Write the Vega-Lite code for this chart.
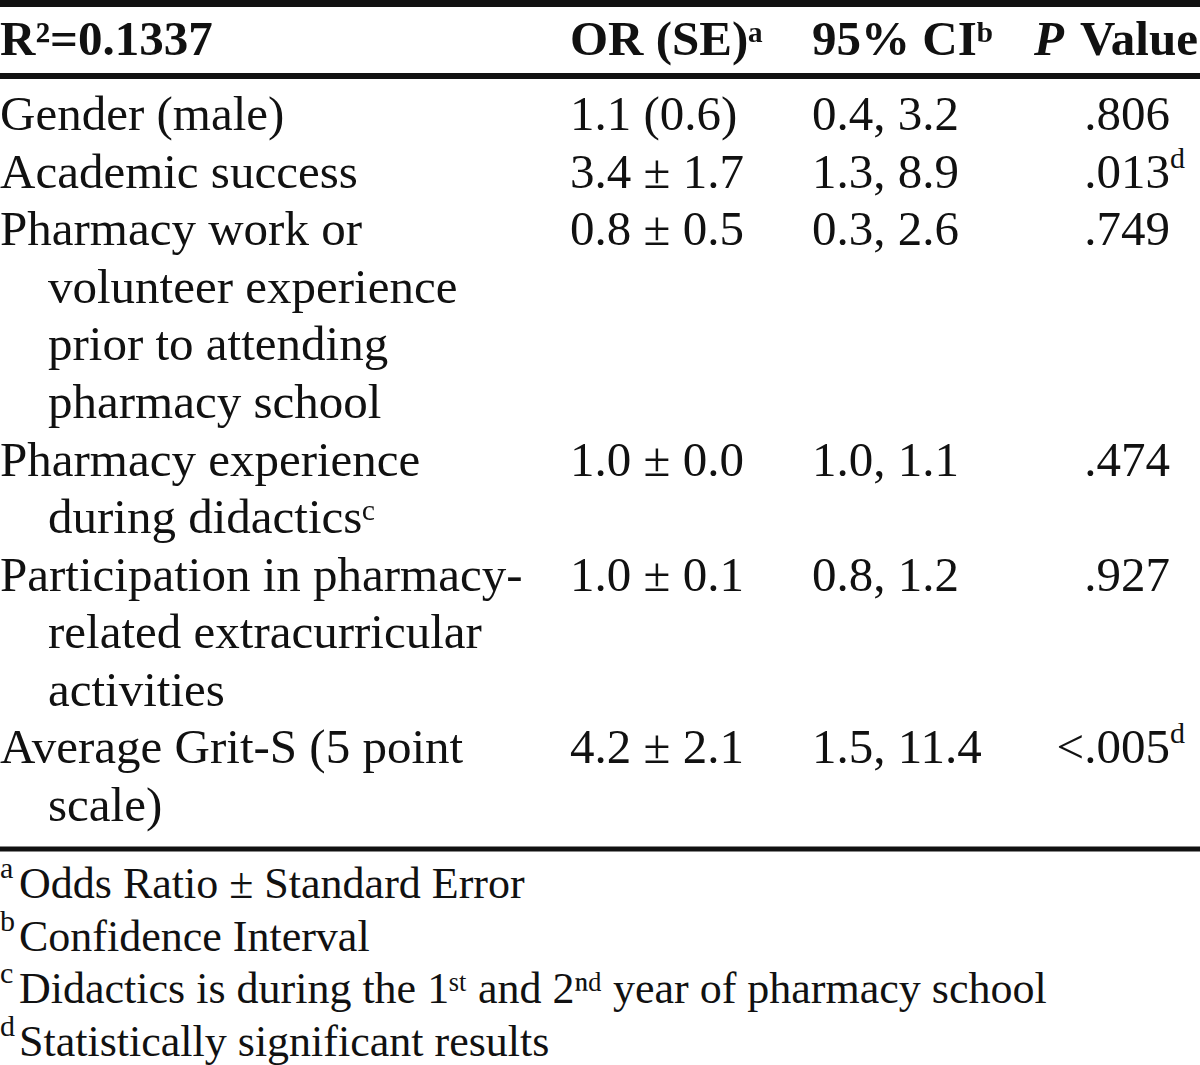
{
  "$schema": "https://vega.github.io/schema/vega-lite/v6.json",
  "width": 1200,
  "height": 1065,
  "autosize": {"type": "none"},
  "padding": 0,
  "background": "white",
  "config": {"view": {"stroke": null}, "text": {"font": "Liberation Serif, DejaVu Serif, serif", "color": "#111111", "baseline": "alphabetic"}},
  "datasets": {
    "rules": [
      {"rule": "top", "line": -1},
      {"rule": "header", "line": 0.5},
      {"rule": "bottom", "line": 13.5}
    ],
    "header": [
      {"line": 0, "col": 0, "part": "left", "cell": "R²=0.1337"},
      {"line": 0, "col": 2, "part": "left", "cell": "OR (SE)ᵃ"},
      {"line": 0, "col": 3, "part": "left", "cell": "95% CIᵇ"},
      {"line": 0, "col": 5, "part": "value", "cell": "Value"},
      {"line": 0, "col": 5, "part": "italic", "cell": "P"}
    ],
    "table": [
      {"line": 1, "col": 0, "cell": "Gender (male)"},
      {"line": 1, "col": 2, "cell": "1.1 (0.6)"},
      {"line": 1, "col": 3, "cell": "0.4, 3.2"},
      {"line": 1, "col": 4, "cell": ".806"},
      {"line": 2, "col": 0, "cell": "Academic success"},
      {"line": 2, "col": 2, "cell": "3.4 ± 1.7"},
      {"line": 2, "col": 3, "cell": "1.3, 8.9"},
      {"line": 2, "col": 4, "cell": ".013", "note": "d"},
      {"line": 3, "col": 0, "cell": "Pharmacy work or"},
      {"line": 3, "col": 2, "cell": "0.8 ± 0.5"},
      {"line": 3, "col": 3, "cell": "0.3, 2.6"},
      {"line": 3, "col": 4, "cell": ".749"},
      {"line": 4, "col": 1, "cell": "volunteer experience"},
      {"line": 5, "col": 1, "cell": "prior to attending"},
      {"line": 6, "col": 1, "cell": "pharmacy school"},
      {"line": 7, "col": 0, "cell": "Pharmacy experience"},
      {"line": 7, "col": 2, "cell": "1.0 ± 0.0"},
      {"line": 7, "col": 3, "cell": "1.0, 1.1"},
      {"line": 7, "col": 4, "cell": ".474"},
      {"line": 8, "col": 1, "cell": "during didacticsᶜ"},
      {"line": 9, "col": 0, "cell": "Participation in pharmacy-"},
      {"line": 9, "col": 2, "cell": "1.0 ± 0.1"},
      {"line": 9, "col": 3, "cell": "0.8, 1.2"},
      {"line": 9, "col": 4, "cell": ".927"},
      {"line": 10, "col": 1, "cell": "related extracurricular"},
      {"line": 11, "col": 1, "cell": "activities"},
      {"line": 12, "col": 0, "cell": "Average Grit-S (5 point"},
      {"line": 12, "col": 2, "cell": "4.2 ± 2.1"},
      {"line": 12, "col": 3, "cell": "1.5, 11.4"},
      {"line": 12, "col": 4, "cell": "<.005", "note": "d"},
      {"line": 13, "col": 1, "cell": "scale)"}
    ],
    "footnotes": [
      {"line": 14, "col": 0, "mark": "a", "cell": "Odds Ratio ± Standard Error"},
      {"line": 15, "col": 0, "mark": "b", "cell": "Confidence Interval"},
      {"line": 16, "col": 0, "mark": "c", "cell": "Didactics is during the 1ˢᵗ and 2ⁿᵈ year of pharmacy school"},
      {"line": 17, "col": 0, "mark": "d", "cell": "Statistically significant results"}
    ]
  },
  "layer": [
    {
      "data": {"name": "rules"},
      "mark": {"type": "rule", "color": "#111111"},
      "encoding": {
        "y": {"field": "line", "type": "quantitative", "axis": null, "scale": {"domain": [-1, 0, 0.5, 1, 13, 13.5, 14, 17], "range": [3.5, 55, 76, 130, 821, 849, 898, 1056], "nice": false, "zero": false}},
        "strokeWidth": {"field": "rule", "type": "nominal", "legend": null, "scale": {"domain": ["top", "header", "bottom"], "range": [7, 5, 7]}}
      }
    },
    {
      "data": {"name": "header"},
      "transform": [{"filter": "datum.part === 'left'"}],
      "mark": {"type": "text", "align": "left", "fontSize": 49, "fontWeight": "bold"},
      "encoding": {
        "x": {"field": "col", "type": "quantitative", "axis": null, "scale": {"domain": [0, 1, 2, 3, 4, 5], "range": [0, 48, 570, 812, 1170, 1198], "nice": false, "zero": false}},
        "y": {"field": "line", "type": "quantitative", "axis": null, "scale": {"domain": [-1, 0, 0.5, 1, 13, 13.5, 14, 17], "range": [3.5, 55, 76, 130, 821, 849, 898, 1056], "nice": false, "zero": false}},
        "text": {"field": "cell"}
      }
    },
    {
      "data": {"name": "header"},
      "transform": [{"filter": "datum.part === 'value'"}],
      "mark": {"type": "text", "align": "right", "fontSize": 49, "fontWeight": "bold"},
      "encoding": {
        "x": {"field": "col", "type": "quantitative", "axis": null, "scale": {"domain": [0, 1, 2, 3, 4, 5], "range": [0, 48, 570, 812, 1170, 1198], "nice": false, "zero": false}},
        "y": {"field": "line", "type": "quantitative", "axis": null, "scale": {"domain": [-1, 0, 0.5, 1, 13, 13.5, 14, 17], "range": [3.5, 55, 76, 130, 821, 849, 898, 1056], "nice": false, "zero": false}},
        "text": {"field": "cell"}
      }
    },
    {
      "data": {"name": "header"},
      "transform": [{"filter": "datum.part === 'italic'"}],
      "mark": {"type": "text", "align": "right", "fontSize": 49, "fontWeight": "bold", "fontStyle": "italic", "dx": -134},
      "encoding": {
        "x": {"field": "col", "type": "quantitative", "axis": null, "scale": {"domain": [0, 1, 2, 3, 4, 5], "range": [0, 48, 570, 812, 1170, 1198], "nice": false, "zero": false}},
        "y": {"field": "line", "type": "quantitative", "axis": null, "scale": {"domain": [-1, 0, 0.5, 1, 13, 13.5, 14, 17], "range": [3.5, 55, 76, 130, 821, 849, 898, 1056], "nice": false, "zero": false}},
        "text": {"field": "cell"}
      }
    },
    {
      "data": {"name": "table"},
      "transform": [{"filter": "datum.col < 4"}],
      "mark": {"type": "text", "align": "left", "fontSize": 49},
      "encoding": {
        "x": {"field": "col", "type": "quantitative", "axis": null, "scale": {"domain": [0, 1, 2, 3, 4, 5], "range": [0, 48, 570, 812, 1170, 1198], "nice": false, "zero": false}},
        "y": {"field": "line", "type": "quantitative", "axis": null, "scale": {"domain": [-1, 0, 0.5, 1, 13, 13.5, 14, 17], "range": [3.5, 55, 76, 130, 821, 849, 898, 1056], "nice": false, "zero": false}},
        "text": {"field": "cell"}
      }
    },
    {
      "data": {"name": "table"},
      "transform": [{"filter": "datum.col === 4"}],
      "mark": {"type": "text", "align": "right", "fontSize": 49},
      "encoding": {
        "x": {"field": "col", "type": "quantitative", "axis": null, "scale": {"domain": [0, 1, 2, 3, 4, 5], "range": [0, 48, 570, 812, 1170, 1198], "nice": false, "zero": false}},
        "y": {"field": "line", "type": "quantitative", "axis": null, "scale": {"domain": [-1, 0, 0.5, 1, 13, 13.5, 14, 17], "range": [3.5, 55, 76, 130, 821, 849, 898, 1056], "nice": false, "zero": false}},
        "text": {"field": "cell"}
      }
    },
    {
      "data": {"name": "table"},
      "transform": [{"filter": "datum.note"}],
      "mark": {"type": "text", "align": "left", "fontSize": 30, "dy": -20},
      "encoding": {
        "x": {"field": "col", "type": "quantitative", "axis": null, "scale": {"domain": [0, 1, 2, 3, 4, 5], "range": [0, 48, 570, 812, 1170, 1198], "nice": false, "zero": false}},
        "y": {"field": "line", "type": "quantitative", "axis": null, "scale": {"domain": [-1, 0, 0.5, 1, 13, 13.5, 14, 17], "range": [3.5, 55, 76, 130, 821, 849, 898, 1056], "nice": false, "zero": false}},
        "text": {"field": "note"}
      }
    },
    {
      "data": {"name": "footnotes"},
      "mark": {"type": "text", "align": "left", "fontSize": 30, "dy": -20},
      "encoding": {
        "x": {"field": "col", "type": "quantitative", "axis": null, "scale": {"domain": [0, 1, 2, 3, 4, 5], "range": [0, 48, 570, 812, 1170, 1198], "nice": false, "zero": false}},
        "y": {"field": "line", "type": "quantitative", "axis": null, "scale": {"domain": [-1, 0, 0.5, 1, 13, 13.5, 14, 17], "range": [3.5, 55, 76, 130, 821, 849, 898, 1056], "nice": false, "zero": false}},
        "text": {"field": "mark"}
      }
    },
    {
      "data": {"name": "footnotes"},
      "mark": {"type": "text", "align": "left", "fontSize": 44, "dx": 19},
      "encoding": {
        "x": {"field": "col", "type": "quantitative", "axis": null, "scale": {"domain": [0, 1, 2, 3, 4, 5], "range": [0, 48, 570, 812, 1170, 1198], "nice": false, "zero": false}},
        "y": {"field": "line", "type": "quantitative", "axis": null, "scale": {"domain": [-1, 0, 0.5, 1, 13, 13.5, 14, 17], "range": [3.5, 55, 76, 130, 821, 849, 898, 1056], "nice": false, "zero": false}},
        "text": {"field": "cell"}
      }
    }
  ]
}
